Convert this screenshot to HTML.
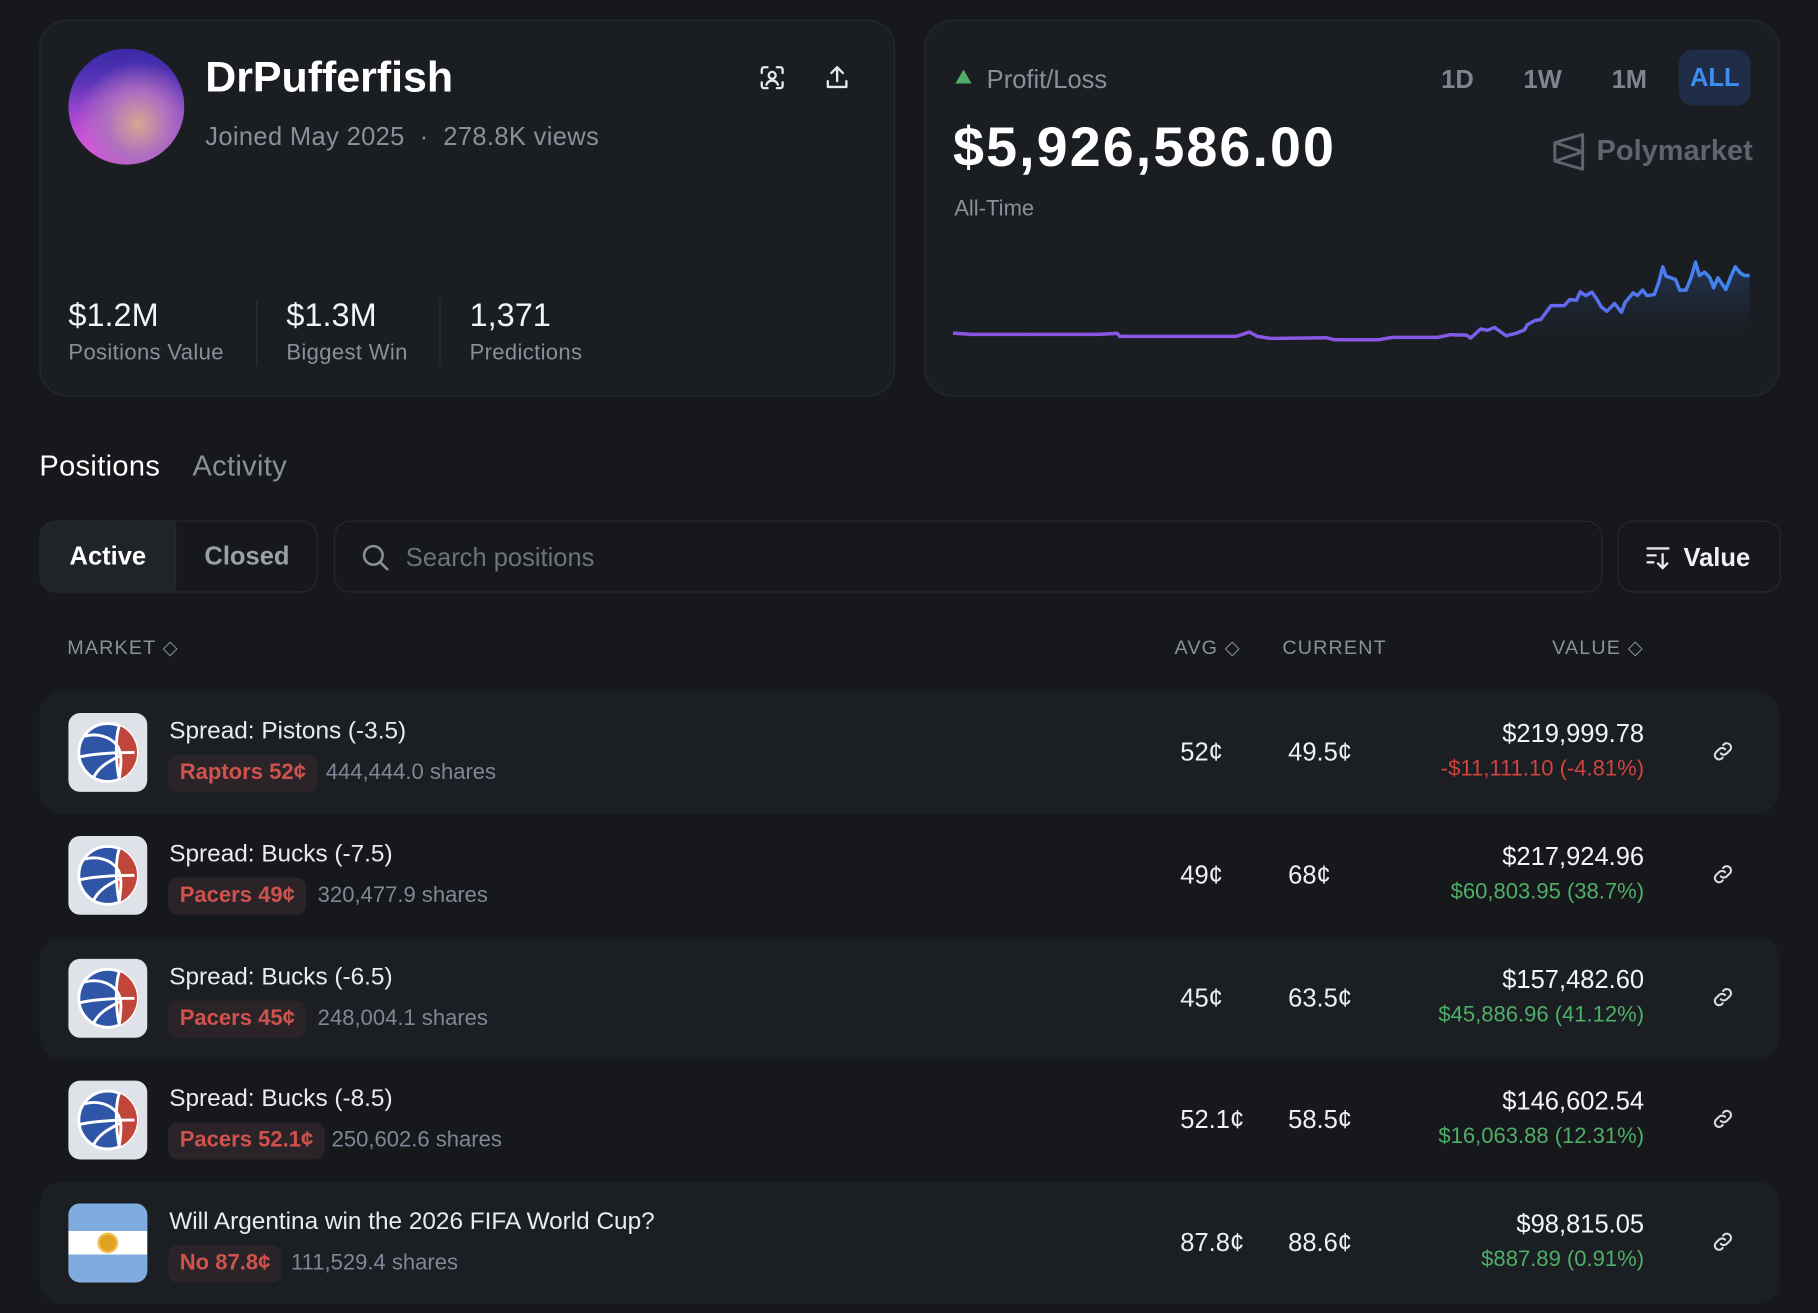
<!DOCTYPE html>
<html><head><meta charset="utf-8">
<style>
*{box-sizing:border-box;margin:0;padding:0}
html,body{width:1818px;height:1312px;overflow:hidden;background:#16181c}
body{font-family:"Liberation Sans",sans-serif;color:#eef0f3}
#wrap{position:absolute;left:0;top:0;width:1568px;height:1132px;transform:scale(1.15944);transform-origin:0 0}
.abs{position:absolute;white-space:nowrap}
.card{position:absolute;background:#1a1d21;border:1px solid #262a30;border-radius:24px}
.grey{color:#8a9099}
.row{position:absolute;left:34px;width:1501px;height:106px;border-radius:20px}
.row.bg{background:#1b1e22}
.ico{position:absolute;left:25px;top:19px;width:68px;height:68px;border-radius:10px;background:#dfe2e8;overflow:hidden}
.title{position:absolute;left:112px;top:23px;font-size:21px;color:#e9ebee}
.pill{position:absolute;left:111px;top:55px;height:32px;line-height:32px;padding:0 10px;border-radius:8px;background:#2a2428;color:#d0524d;font-size:19px;font-weight:bold}
.shares{position:absolute;top:55px;line-height:32px;font-size:19px;color:#7f8896}
.num{position:absolute;top:40px;font-size:22px;color:#eef0f3}
.val{position:absolute;right:117px;top:24px;font-size:22px;color:#f3f4f6;text-align:right}
.pnl{position:absolute;right:117px;top:57px;font-size:19px;text-align:right}
.up{color:#4fae68}.dn{color:#d0453f}
.link{position:absolute;left:1441px;top:41px}
.th{position:absolute;top:549px;font-size:17px;letter-spacing:1px;color:#8a9099}
</style></head><body>
<div id="wrap">
<!-- profile card -->
<div class="card" style="left:34px;top:17px;width:738px;height:325px"></div>
<div class="abs" style="left:59px;top:42px;width:100px;height:100px;border-radius:50%;background:radial-gradient(circle at 60% 65%,#d6a890 0%,#b070c0 30%,transparent 60%),radial-gradient(circle at 20% 90%,#e050e0 0%,transparent 50%),linear-gradient(180deg,#3a2aa8 0%,#6a3ac0 45%,#b050d0 100%)"></div>
<div class="abs" style="left:177px;top:46px;font-size:37px;font-weight:bold;color:#fff">DrPufferfish</div>
<div class="abs grey" style="left:177px;top:105px;font-size:22px;letter-spacing:0.3px">Joined May 2025 &nbsp;·&nbsp; 278.8K views</div>
<svg class="abs" style="left:654px;top:55px" width="24" height="24" viewBox="0 0 24 24" fill="none" stroke="#e6e8eb" stroke-width="2" stroke-linecap="round"><path d="M3 8V5a2 2 0 0 1 2-2h3M16 3h3a2 2 0 0 1 2 2v3M21 16v3a2 2 0 0 1-2 2h-3M8 21H5a2 2 0 0 1-2-2v-3"/><circle cx="12" cy="10" r="3"/><path d="M7 18c1-2.5 3-3.5 5-3.5s4 1 5 3.5"/></svg>
<svg class="abs" style="left:710px;top:55px" width="24" height="24" viewBox="0 0 24 24" fill="none" stroke="#e6e8eb" stroke-width="2" stroke-linecap="round" stroke-linejoin="round"><path d="M12 3v12M7 8l5-5 5 5M4 15v5h16v-5"/></svg>
<div class="abs" style="left:59px;top:256px;font-size:28px;color:#f3f4f6">$1.2M</div>
<div class="abs grey" style="left:59px;top:294px;font-size:19px;letter-spacing:0.3px">Positions Value</div>
<div class="abs" style="left:221px;top:258px;width:1px;height:58px;background:#2c3036"></div>
<div class="abs" style="left:247px;top:256px;font-size:28px;color:#f3f4f6">$1.3M</div>
<div class="abs grey" style="left:247px;top:294px;font-size:19px;letter-spacing:0.3px">Biggest Win</div>
<div class="abs" style="left:379px;top:258px;width:1px;height:58px;background:#2c3036"></div>
<div class="abs" style="left:405px;top:256px;font-size:28px;color:#f3f4f6">1,371</div>
<div class="abs grey" style="left:405px;top:294px;font-size:19px;letter-spacing:0.3px">Predictions</div>

<!-- P/L card -->
<div class="card" style="left:797px;top:17px;width:738px;height:325px"></div>
<div class="abs" style="left:824px;top:60px;width:0;height:0;border-left:7px solid transparent;border-right:7px solid transparent;border-bottom:12px solid #4fae68"></div>
<div class="abs grey" style="left:851px;top:56px;font-size:22px">Profit/Loss</div>
<div class="abs" style="left:1243px;top:56px;font-size:22px;font-weight:bold;color:#7f8590">1D</div>
<div class="abs" style="left:1314px;top:56px;font-size:22px;font-weight:bold;color:#7f8590">1W</div>
<div class="abs" style="left:1390px;top:56px;font-size:22px;font-weight:bold;color:#7f8590">1M</div>
<div class="abs" style="left:1448px;top:43px;width:62px;height:48px;border-radius:12px;background:#1f2d48;color:#3d8ef0;font-size:22px;font-weight:bold;text-align:center;line-height:48px">ALL</div>
<div class="abs" style="left:822px;top:100px;font-size:48px;font-weight:bold;color:#fff;letter-spacing:1.8px">$5,926,586.00</div>
<svg class="abs" style="left:1339px;top:114px" width="28" height="34" viewBox="0 0 28 34" fill="none" stroke="#5f656e" stroke-width="2.5" stroke-linejoin="round"><path d="M26 2L2 9v16l24 7zM2 9l24 8M2 25l24-8"/></svg>
<div class="abs" style="left:1377px;top:116px;font-size:25px;font-weight:bold;color:#5f656e">Polymarket</div>
<div class="abs grey" style="left:823px;top:170px;font-size:19px">All-Time</div>
<svg id="chart" class="abs" style="left:0;top:0" width="1568" height="340"></svg>

<!-- tabs -->
<div class="abs" style="left:34px;top:388px;font-size:25px;color:#fff;letter-spacing:0.3px">Positions</div>
<div class="abs grey" style="left:166px;top:388px;font-size:25px;letter-spacing:0.3px">Activity</div>

<div class="abs" style="left:34px;top:449px;width:240px;height:62px;border:1px solid #262a30;border-radius:14px;overflow:hidden">
 <div class="abs" style="left:0;top:0;width:117px;height:60px;background:#202328;border-right:1px solid #262a30;font-size:22px;font-weight:bold;color:#fff;line-height:60px;text-align:center">Active</div>
 <div class="abs grey" style="left:117px;top:0;width:122px;height:60px;font-size:22px;font-weight:bold;line-height:60px;text-align:center;color:#9aa0a8">Closed</div>
</div>
<div class="abs" style="left:288px;top:449px;width:1094px;height:62px;border:1px solid #262a30;border-radius:14px">
 <svg class="abs" style="left:22px;top:18px" width="26" height="26" viewBox="0 0 26 26" fill="none" stroke="#8a9099" stroke-width="2.2" stroke-linecap="round"><circle cx="11" cy="11" r="8"/><path d="M17 17l6 6"/></svg>
 <div class="abs" style="left:61px;top:18px;font-size:22px;color:#6d737c">Search positions</div>
</div>
<div class="abs" style="left:1395px;top:449px;width:141px;height:62px;border:1px solid #262a30;border-radius:14px">
 <svg class="abs" style="left:24px;top:20px" width="22" height="22" viewBox="0 0 22 22" fill="none" stroke="#e6e8eb" stroke-width="2" stroke-linecap="round"><path d="M1 3h18M1 9h7M1 15h5M14 8v12M10 16l4 4 4-4"/></svg>
 <div class="abs" style="left:56px;top:18px;font-size:22px;font-weight:bold;color:#f0f1f3">Value</div>
</div>

<div class="th" style="left:58px">MARKET ◇</div>
<div class="th" style="left:1013px">AVG ◇</div>
<div class="th" style="left:1106px">CURRENT</div>
<div class="th" style="right:150px">VALUE ◇</div>

<div id="rows"></div>
</div>

<script>
// P/L chart data (time index, value in $M)
const days = [0,35,275,310,315,535,560,575,600,705,720,805,830,915,940,970,978,997,1010,1023,1045,1065,1080,1085,1100,1110,1130,1155,1165,1178,1185,1195,1207,1217,1225,1235,1250,1263,1270,1285,1293,1303,1311,1325,1333,1341,1347,1365,1373,1385,1395,1403,1410,1420,1430,1437,1445,1460,1470,1478,1487,1495,1505];
const pnl = [0.56,0.44,0.44,0.53,0.25,0.25,0.65,0.25,0.06,0.12,-0.06,-0.06,0.16,0.16,0.41,0.37,0.09,0.94,0.81,1.09,0.31,0.56,0.87,1.34,1.75,1.81,3.12,3.12,3.68,3.62,4.40,4.06,4.37,3.68,2.99,2.59,3.31,2.50,3.43,4.31,4.06,4.56,4.06,4.15,5.24,6.74,5.87,5.55,4.56,4.56,5.80,7.18,5.93,6.24,5.71,4.78,5.71,4.62,5.87,6.74,6.18,5.93,5.93];
const NS='http://www.w3.org/2000/svg';
const svg=document.getElementById('chart');
const X0=822,X1=1509,Y0=293,Y1=226,V0=-0.06,V1=7.18;
const xs=d=>X0+(d-days[0])/(days[days.length-1]-days[0])*(X1-X0);
const ys=v=>Y0+(v-V0)/(V1-V0)*(Y1-Y0);
svg.innerHTML='<defs><linearGradient id="lg" x1="822" y1="0" x2="1509" y2="0" gradientUnits="userSpaceOnUse"><stop offset="0" stop-color="#8b55e0"/><stop offset="0.6" stop-color="#8a58e6"/><stop offset="0.8" stop-color="#5a6ef0"/><stop offset="1" stop-color="#3b8af0"/></linearGradient><linearGradient id="fg" x1="0" y1="226" x2="0" y2="305" gradientUnits="userSpaceOnUse"><stop offset="0" stop-color="#2b4a80" stop-opacity="0.6"/><stop offset="1" stop-color="#1a1d21" stop-opacity="0"/></linearGradient></defs>';
let d='';
days.forEach((t,i)=>{d+=(i?'L':'M')+xs(t).toFixed(1)+' '+ys(pnl[i]).toFixed(1);});
const area=document.createElementNS(NS,'path');
area.setAttribute('d',d+'L'+X1+' 305L'+X0+' 305Z');
area.setAttribute('fill','url(#fg)');


svg.appendChild(area);
const line=document.createElementNS(NS,'path');
line.setAttribute('d',d);
line.setAttribute('fill','none');
line.setAttribute('stroke','url(#lg)');
line.setAttribute('stroke-width','3');
line.setAttribute('stroke-linejoin','round');


svg.appendChild(line);

// positions
const titles=['Spread: Pistons (-3.5)','Spread: Bucks (-7.5)','Spread: Bucks (-6.5)','Spread: Bucks (-8.5)','Will Argentina win the 2026 FIFA World Cup?'];
const pills=['Raptors 52¢','Pacers 49¢','Pacers 45¢','Pacers 52.1¢','No 87.8¢'];
const shares=['444,444.0 shares','320,477.9 shares','248,004.1 shares','250,602.6 shares','111,529.4 shares'];
const avgs=['52¢','49¢','45¢','52.1¢','87.8¢'];
const currents=['49.5¢','68¢','63.5¢','58.5¢','88.6¢'];
const values=['$219,999.78','$217,924.96','$157,482.60','$146,602.54','$98,815.05'];
const pnls=['-$11,111.10 (-4.81%)','$60,803.95 (38.7%)','$45,886.96 (41.12%)','$16,063.88 (12.31%)','$887.89 (0.91%)'];
const shareOffset=[136,129,129,141,106];
const ball='<svg width="68" height="68" viewBox="0 0 68 68"><circle cx="34" cy="34" r="25" fill="#2f56a6" stroke="#fff" stroke-width="2.5"/><path d="M44 11a25 25 0 0 1 0 46c-3-8-3-38 0-46z" fill="#c0453a"/><g fill="none" stroke="#fff" stroke-width="2.5"><path d="M14 20c10-3 22 0 28 8s2 24 2 28"/><path d="M9 38c12-3 26-4 48-4"/><path d="M22 55c5-10 15-14 22-18"/><path d="M44 11c-4 10-3 34 0 46"/></g></svg>';
const flag='<div style="position:absolute;left:0;top:0;width:68px;height:68px;background:linear-gradient(#7eacdf 0 35%,#fff 35% 65%,#7eacdf 65%)"></div><div style="position:absolute;left:27px;top:27px;width:14px;height:14px;border-radius:50%;background:#e0a020;box-shadow:0 0 0 2px #f0c050"></div>';
const link='<svg width="22" height="22" viewBox="0 0 24 24" fill="none" stroke="#d8dadd" stroke-width="2" stroke-linecap="round"><path d="M10 14a4 4 0 0 0 5.6 0l3.2-3.2a4 4 0 0 0-5.6-5.6l-1 1"/><path d="M14 10a4 4 0 0 0-5.6 0l-3.2 3.2a4 4 0 0 0 5.6 5.6l1-1"/></svg>';
const rows=document.getElementById('rows');
titles.forEach((t,i)=>{
 const r=document.createElement('div');
 r.className='row'+(i%2===0?' bg':'');
 r.style.top=(596+105.8*i)+'px';
 
 
 const up=!pnls[i].startsWith('-');
 r.innerHTML='<div class="ico">'+(i<4?ball:flag)+'</div>'+
 '<div class="title">'+t+'</div>'+
 '<div class="pill">'+pills[i]+'</div>'+
 '<div class="shares" style="left:'+(111+shareOffset[i])+'px">'+shares[i]+'</div>'+
 '<div class="num" style="left:984px">'+avgs[i]+'</div>'+
 '<div class="num" style="left:1077px">'+currents[i]+'</div>'+
 '<div class="val">'+values[i]+'</div>'+
 '<div class="pnl '+(up?'up':'dn')+'">'+pnls[i]+'</div>'+
 '<div class="link">'+link+'</div>';
 rows.appendChild(r);
});
</script>
</body></html>
